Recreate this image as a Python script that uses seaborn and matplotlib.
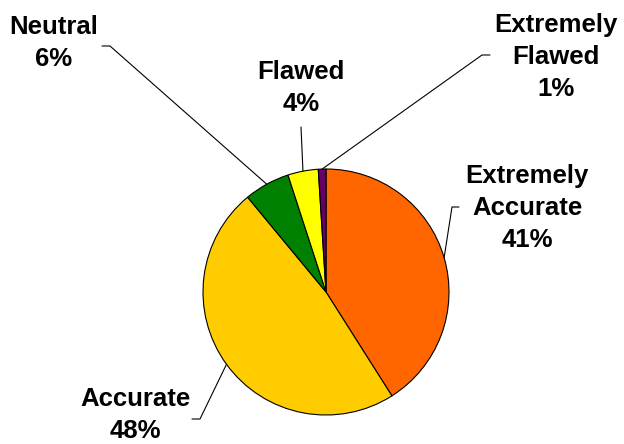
import matplotlib
matplotlib.use('Agg')
import matplotlib.pyplot as plt
import seaborn as sns
import numpy as np

# ----------- data ---------------
categories = ['Extremely\nAccurate', 'Accurate', 'Neutral', 'Flawed', 'Extremely\nFlawed']
shares = [41, 48, 6, 4, 1]
colors = ['#FF6600', '#FFCC00', '#008000', '#FFFF00', '#660066']

# ----------- layout (pixels, image y goes down) ---------------
H = 444
center = (326, H - 292)
radius = 123
label_xy = [(527, 208), (135, 415), (54, 43), (301, 88), (556, 57)]
# end of the short horizontal bit next to each label (start, elbow)
leader_xy = [((459, 207), (452, 207)),
             ((192, 419), (200, 419)),
             ((102, 46), (110, 46)),
             ((301, 127), (301, 127)),
             ((490, 55), (482, 55))]

sns.set_theme(style='white')
plt.rcParams['font.family'] = ['Liberation Sans', 'DejaVu Sans']

fig = plt.figure(figsize=(6.24, 4.44), dpi=100)
ax = fig.add_axes([0, 0, 1, 1])

wedges, _ = ax.pie(shares, colors=colors, startangle=90, counterclock=False,
                   center=center, radius=radius,
                   wedgeprops=dict(edgecolor='black', linewidth=0.8))
ax.set_xlim(0, 624)
ax.set_ylim(0, H)
ax.set_aspect('equal')
ax.axis('off')

for w, cat, val, (lx, ly), (p0, p1) in zip(wedges, categories, shares, label_xy, leader_xy):
    mid = np.deg2rad((w.theta1 + w.theta2) / 2)
    ex = center[0] + radius * np.cos(mid)
    ey = center[1] + radius * np.sin(mid)
    ax.plot([p0[0], p1[0], ex], [H - p0[1], H - p1[1], ey], color='black', lw=0.8)
    ax.text(lx, H - ly, f'{cat}\n{val}%', ha='center', va='center', color='black',
            fontsize=18.5, fontweight='bold', linespacing=1.4, clip_on=False)

fig.savefig('out.png', dpi=100)
